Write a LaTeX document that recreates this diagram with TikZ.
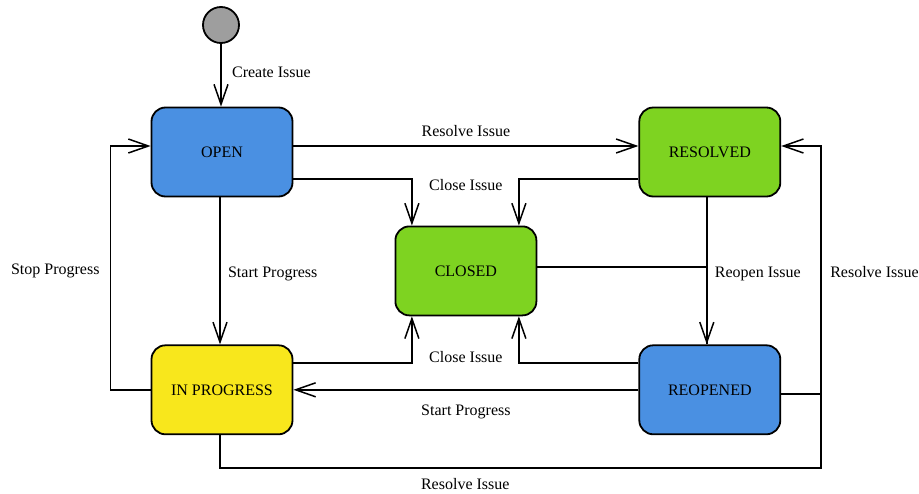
\documentclass[tikz,border=0pt]{standalone}
\usepackage{fontspec}
\setmainfont{Liberation Serif}
\usetikzlibrary{arrows.meta, positioning, calc}

\definecolor{stateblue}{HTML}{4A90E2}
\definecolor{stategreen}{HTML}{7ED321}
\definecolor{stateyellow}{HTML}{F8E71C}
\definecolor{startgray}{HTML}{9E9E9E}

\begin{document}
\begin{tikzpicture}[
        x=1pt, y=-1pt,
        node distance=147pt,
        font=\fontsize{16pt}{19pt}\selectfont,
        state/.style={
            rectangle,
            rounded corners=14pt,
            minimum width=141pt,
            minimum height=89pt,
            text centered,
            draw=black,
            line width=1.8pt
        },
        arrow/.style={
            line width=1.5pt,
            -{Straight Barb[length=20pt, width=14pt]}
        },
        link/.style={
            line width=1.5pt
        }
    ]

    \useasboundingbox (0,0) rectangle (919,493);

    % Nodes
    \node (start) [circle, draw=black, line width=1.8pt, fill=startgray, minimum size=36pt, inner sep=0pt] at (221,25) {};
    \node (open) [state, fill=stateblue] at (222,152) {OPEN};
    \node (resolved) [state, fill=stategreen, right=345pt of open] {RESOLVED};
    \node (inprogress) [state, fill=stateyellow, below=of open] {IN PROGRESS};
    \node (reopened) [state, fill=stateblue, below=of resolved] {REOPENED};
    \node (closed) [state, fill=stategreen] at ($(open)!0.5!(reopened)$) {CLOSED};
    \coordinate (rbus) at ([xshift=40pt, yshift=-4pt]reopened.east);

    % Arrows
    \draw [arrow] (start) -- (start |- open.north) node[right=7pt, pos=0.45] {Create Issue};
    \draw [arrow] ([yshift=6pt]open.east) -- ([yshift=6pt]open.east -| resolved.west) node[above=5pt, midway] {Resolve Issue};
    \draw [arrow] ([yshift=-27pt]open.east) -| ([xshift=-54pt]closed.north);
    \draw [arrow] ([yshift=-27pt]resolved.west) -| ([xshift=53pt]closed.north);
    \draw [arrow] ([xshift=-2pt]open.south) -- ([xshift=-2pt]open.south |- inprogress.north) node[right=4pt, midway, yshift=-3pt] {Start Progress};
    \draw [arrow] (inprogress.west) -- ++(-40,0) |- node[left=7pt, pos=0.25, yshift=-3pt] {Stop Progress} ([yshift=6pt]open.west);
    \draw [arrow] ([yshift=27pt]inprogress.east) -| ([xshift=-54pt]closed.south);
    \draw [arrow] ([yshift=27pt]reopened.west) -| ([xshift=53pt]closed.south);
    \draw [arrow] ([xshift=-3pt]resolved.south) -- ([xshift=-3pt]reopened.north) node[right=4pt, midway, yshift=-3pt] {Reopen Issue};
    \draw [link] ([yshift=4pt]closed.east) -| ([xshift=-3pt]reopened.north);
    \draw [arrow] (reopened.west) -- (reopened.west -| inprogress.east) node[below=11pt, midway] {Start Progress};
    \draw [link] ([xshift=-2pt]inprogress.south) -- ++(0,33) -| node[below=6pt, pos=0.204] {Resolve Issue} (rbus);
    \draw [arrow] ([yshift=-4pt]reopened.east) -- (rbus) |- node[right=5pt, pos=0.25, yshift=-2pt] {Resolve Issue} ([yshift=6pt]resolved.east);

    % Labels
    \node (closeup) at ([yshift=40pt]closed.north) {Close Issue};
    \node (closedown) at ([yshift=-41pt]closed.south) {Close Issue};

\end{tikzpicture}
\end{document}
